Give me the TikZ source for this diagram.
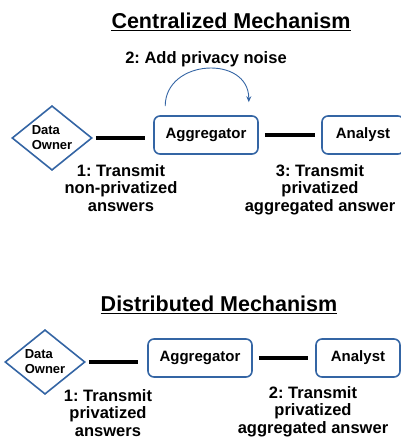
\documentclass[tikz,border=0pt]{standalone}
\usepackage{fontspec}
\setmainfont{Liberation Sans}
\usetikzlibrary{arrows.meta,positioning,shapes.geometric}
\definecolor{BoxBlue}{RGB}{52,101,164}
\frenchspacing

\tikzset{
  ownerbox/.style={diamond,draw=BoxBlue,line width=1.6pt,minimum width=80pt,
    minimum height=64pt,inner sep=0pt,align=left,
    font=\fontsize{13}{15}\selectfont\bfseries},
  rolebox/.style={draw=BoxBlue,line width=1.6pt,rounded corners=6pt,
    minimum height=38pt,font=\fontsize{15}{17}\selectfont\bfseries},
  link/.style={line width=3.5pt,shorten <=3pt,shorten >=8pt},
  steplabel/.style={align=center,inner sep=0pt,
    font=\fontsize{16.5}{17.8}\selectfont\bfseries},
  headline/.style={inner sep=0pt,font=\fontsize{21.5}{24}\selectfont\bfseries}
}

\begin{document}
\begin{tikzpicture}[x=1pt,y=-1pt,>={Stealth[length=6pt,width=5pt]}]
  \useasboundingbox (0,0) rectangle (401,439);

  % centralized
  \node[headline,anchor=base] (ctitle) at (231,28) {Centralized Mechanism};
  \node[steplabel,anchor=base] (cnoise) at (206,63) {2: Add privacy noise};
  \node[ownerbox] (cowner) at (52,138) {Data\\Owner};
  \node[rolebox,minimum width=104pt] (cagg) at (206,135) {Aggregator};
  \node[rolebox,minimum width=82pt] (cana) at (363,135) {Analyst};
  \draw[link] (cowner.east) -- (cowner.east -| cagg.west);
  \draw[link,shorten <=6pt,shorten >=6pt] (cagg.east) -- (cagg.east -| cana.west);
  \draw[->,BoxBlue,line width=.9pt] ([xshift=12pt,yshift=9pt]cagg.north west)
    to[out=90,in=90,looseness=1.45] ([xshift=-10pt,yshift=13pt]cagg.north east);
  \node[steplabel,anchor=north] (cstep1) at (121,164) {1: Transmit\\non-privatized\\answers};
  \node[steplabel,anchor=north] (cstep3) at (320,164) {3: Transmit\\privatized\\aggregated answer};

  % distributed
  \node[headline,anchor=base] (dtitle) at (219,311.5) {Distributed Mechanism};
  \node[ownerbox] (downer) at (45,362) {Data\\Owner};
  \node[rolebox,minimum width=104pt] (dagg) at (200,358) {Aggregator};
  \node[rolebox,minimum width=84pt] (dana) at (358,358) {Analyst};
  \draw[link,shorten >=9pt] (downer.east) -- (downer.east -| dagg.west);
  \draw[link,shorten <=6pt,shorten >=7pt] (dagg.east) -- (dagg.east -| dana.west);
  \node[steplabel,anchor=north] (dstep1) at (108,389) {1: Transmit\\privatized\\answers};
  \node[steplabel,anchor=north] (dstep2) at (313,386) {2: Transmit\\privatized\\aggregated answer};

  % underlined titles
  \foreach \t in {ctitle,dtitle}
    \draw[line width=1.3pt] ([yshift=-2.2pt]\t.base west) -- ([yshift=-2.2pt]\t.base east);
\end{tikzpicture}
\end{document}
